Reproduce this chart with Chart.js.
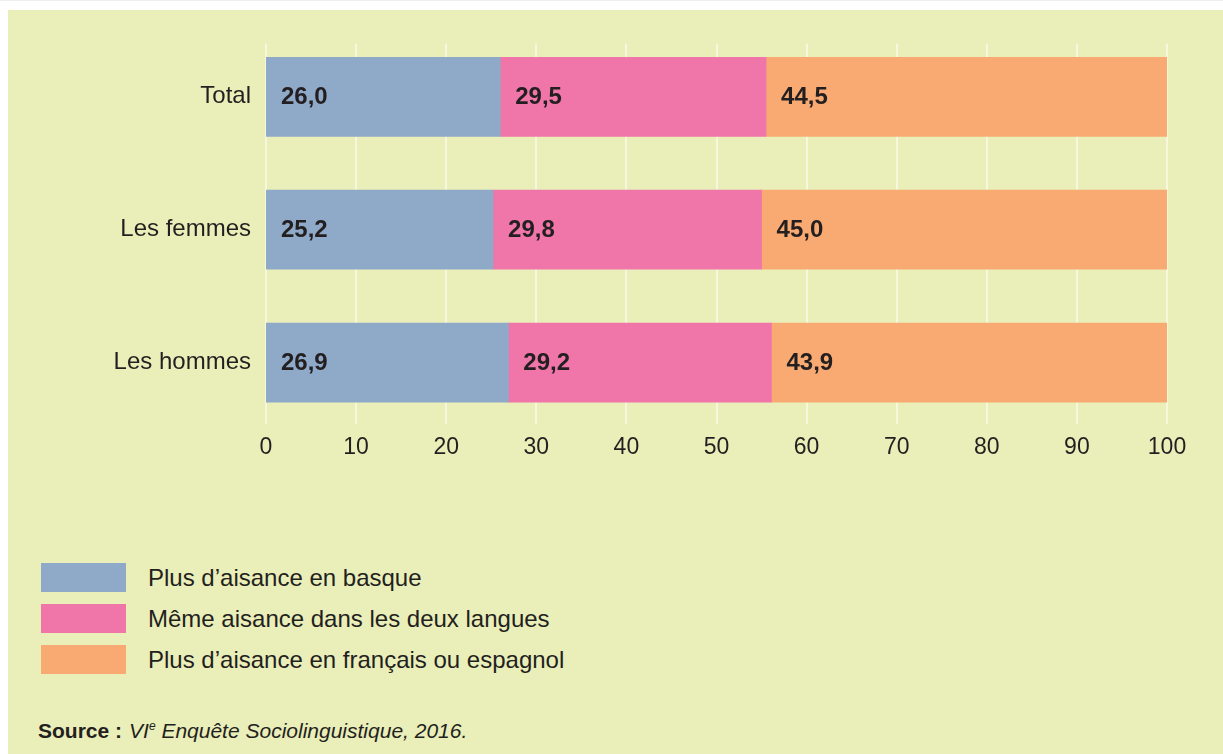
<!DOCTYPE html>
<html lang="fr">
<head>
<meta charset="utf-8">
<script src="https://cdn.jsdelivr.net/npm/chart.js@4/dist/chart.umd.min.js"></script>
<style>
  body { margin: 0; background: #fff; font-family: 'Liberation Sans', Arial, sans-serif; color: #231f20; }
  #page { position: relative; width: 1223px; height: 754px; overflow: hidden; border-top: 1px solid #eeeeee; box-sizing: border-box; }
  #panel { position: absolute; left: 8px; top: 9px; right: 0; bottom: 0; background: #eaeeb8; }
  #wrap { position: absolute; left: 0; top: 0; width: 1223px; height: 480px; }
  #legend { position: absolute; left: 41px; top: 562px; }
  .leg-row { display: flex; align-items: center; height: 29px; margin-bottom: 12px; }
  .leg-box { width: 85px; height: 29px; margin-right: 22px; }
  .leg-text { font-size: 24px; }
  #source { position: absolute; left: 38px; top: 718px; font-size: 21px; }
  #source b { margin-right: 7px; }
  #source sup { font-size: 12px; }
</style>
</head>
<body>
<div id="page">
  <div id="panel"></div>
  <div id="wrap"><canvas id="chart" width="1223" height="480"></canvas></div>
  <div id="legend"></div>
  <div id="source"><b>Source :</b><i>VI<sup>e</sup> Enquête Sociolinguistique, 2016.</i></div>
</div>
<script>
// ── Data ─────────────────────────────────────────────────────
const categories = ['Total', 'Les femmes', 'Les hommes'];
const seriesNames = [
    'Plus d’aisance en basque',
    'Même aisance dans les deux langues',
    'Plus d’aisance en français ou espagnol'
];
const basque   = [26.0, 25.2, 26.9];
const both     = [29.5, 29.8, 29.2];
const frEs     = [44.5, 45.0, 43.9];
const xTicks   = [0, 10, 20, 30, 40, 50, 60, 70, 80, 90, 100];

const COLORS = ['#8fa9c8', '#f075a9', '#f9aa72'];
const TEXT = '#231f20';
const FAMILY = '"Liberation Sans", Arial, sans-serif';

// ── Legend (HTML) ────────────────────────────────────────────
document.getElementById('legend').innerHTML = seriesNames.map((n, i) => `
    <div class="leg-row"><div class="leg-box" style="background:${COLORS[i]}"></div><div class="leg-text">${n}</div></div>`).join('');

// grid lines drawn behind bars, shorter than the full chart area
const gridPlugin = {
    id: 'softGrid',
    beforeDatasetsDraw(chart) {
        const { ctx, chartArea, scales } = chart;
        ctx.save();
        ctx.strokeStyle = '#f6f7dc';
        ctx.lineWidth = 2;
        xTicks.forEach(v => {
            const x = Math.round(scales.x.getPixelForValue(v));
            ctx.beginPath();
            ctx.moveTo(x, chartArea.top + 13);
            ctx.lineTo(x, chartArea.bottom - 5);
            ctx.stroke();
        });
        ctx.restore();
    }
};

// values written at the start of each segment
const labelPlugin = {
    id: 'segLabels',
    afterDatasetsDraw(chart) {
        const { ctx } = chart;
        ctx.save();
        ctx.font = 'bold 24px ' + FAMILY;
        ctx.fillStyle = TEXT;
        ctx.textAlign = 'left';
        ctx.textBaseline = 'middle';
        chart.data.datasets.forEach((ds, di) => {
            chart.getDatasetMeta(di).data.forEach((bar, i) => {
                const txt = ds.data[i].toFixed(1).replace('.', ',');
                ctx.fillText(txt, Math.min(bar.base, bar.x) + 15, bar.y + 1);
            });
        });
        ctx.restore();
    }
};

new Chart(document.getElementById('chart'), {
    type: 'bar',
    data: {
        labels: categories,
        datasets: [basque, both, frEs].map((d, i) => ({
            label: seriesNames[i],
            data: d,
            backgroundColor: COLORS[i],
            borderWidth: 0,
            barThickness: 79
        }))
    },
    options: {
        indexAxis: 'y',
        responsive: false,
        animation: false,
        layout: { padding: { left: 0, right: 56, top: 28, bottom: 0 } },
        plugins: { legend: { display: false }, tooltip: { enabled: false } },
        scales: {
            x: {
                stacked: true, min: 0, max: 100,
                afterBuildTicks: s => { s.ticks = xTicks.map(v => ({ value: v })); },
                afterFit: s => { s.height = 52; },
                grid: { display: false, drawTicks: false, tickLength: 0 },
                border: { display: false },
                ticks: { color: TEXT, padding: 5, maxRotation: 0, font: { size: 23, family: FAMILY } }
            },
            y: {
                stacked: true,
                afterFit: s => { s.width = 266; },
                grid: { display: false, drawTicks: false, tickLength: 0 },
                border: { display: false },
                ticks: { color: TEXT, padding: 15, font: { size: 24, family: FAMILY } }
            }
        }
    },
    plugins: [gridPlugin, labelPlugin]
});
</script>
</body>
</html>
